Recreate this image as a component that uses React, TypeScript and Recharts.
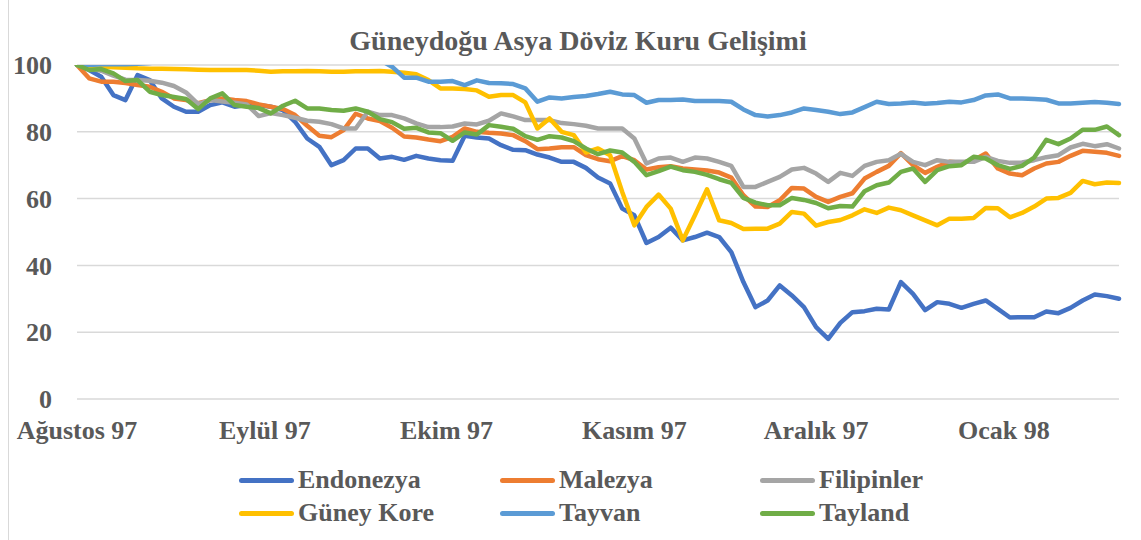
import { LineChart, Line, CartesianGrid, XAxis, YAxis } from 'recharts'

// days since 1 Aug 1997, every second day
const days = [
  0, 2, 4, 6, 8, 10, 12, 14, 16, 18,
  20, 22, 24, 26, 28, 30, 32, 34, 36, 38,
  40, 42, 44, 46, 48, 50, 52, 54, 56, 58,
  60, 62, 64, 66, 68, 70, 72, 74, 76, 78,
  80, 82, 84, 86, 88, 90, 92, 94, 96, 98,
  100, 102, 104, 106, 108, 110, 112, 114, 116, 118,
  120, 122, 124, 126, 128, 130, 132, 134, 136, 138,
  140, 142, 144, 146, 148, 150, 152, 154, 156, 158,
  160, 162, 164, 166, 168, 170, 172,
]

const endonezya = [
  100, 98.5, 96.5, 91, 89.5, 97, 95.5, 90, 87.5, 86,
  86, 88, 88.8, 87.5, 88, 88, 87.5, 86.5, 83, 78,
  75.5, 70, 71.5, 75, 75, 72, 72.5, 71.6, 72.8, 72,
  71.5, 71.3, 78.8, 78.3, 78, 76, 74.6, 74.5, 73.2, 72.3,
  71, 71, 69.2, 66.3, 64.5, 57, 55, 46.7, 48.5, 51.3,
  47.5, 48.5, 49.8, 48.5, 44, 35, 27.5, 29.5, 34, 31,
  27.5, 21.5, 18, 22.8, 26, 26.3, 27, 26.8, 35, 31.5,
  26.6, 29, 28.5, 27.3, 28.5, 29.5, 27, 24.4, 24.5, 24.5,
  26.2, 25.7, 27.3, 29.5, 31.3, 30.8, 30,
]

const malezya = [
  100, 96, 95, 95, 94.6, 94, 93.5, 92, 90, 89.5,
  88.6, 89.5, 90, 89.5, 89.2, 88.2, 87.5, 86.8, 85, 81.8,
  78.8, 78.4, 80.5, 85.4, 84, 83.2, 81.2, 78.6, 78.3, 77.7,
  77.2, 78.5, 81, 80, 79.7, 79.5, 79, 77.2, 74.8, 75,
  75.4, 75.4, 73, 71.8, 71.2, 72.7, 71.5, 68.7, 69.4, 69.7,
  69, 68.7, 68.4, 67.8, 66.3, 61, 57.6, 57.5, 59.5, 63.2,
  63, 60.5, 59, 60.5, 61.6, 66, 68, 69.8, 73.6, 70,
  67.7, 69.5, 71, 70.7, 71.5, 73.5, 69, 67.5, 67, 69,
  70.5, 71, 72.8, 74.3, 74, 73.7, 72.8,
]

const filipinler = [
  100, 99, 98.3, 96.8, 95.6, 95.5, 95.3, 94.7, 93.7, 91.8,
  88.3, 89.5, 89.1, 88.7, 88.2, 84.7, 85.6, 85, 84.2, 83.3,
  83, 82.3, 81, 81, 86, 85, 85, 84, 82.5, 81.4,
  81.4, 81.6, 82.5, 82.2, 83.3, 85.5, 84.6, 83.5, 83.5, 83.5,
  82.6, 82.3, 81.8, 81, 81, 81, 78, 70.5, 72, 72.3,
  71, 72.3, 72, 71, 69.8, 63.5, 63.5, 65, 66.5, 68.7,
  69.2, 67.5, 65, 67.7, 66.8, 69.8, 71, 71.5, 73.4, 71,
  70, 71.5, 71, 71, 71, 72.5, 71.3, 70.7, 70.8, 71.5,
  72.4, 73, 75.3, 76.4, 75.7, 76.3, 75,
]

const guneyKore = [
  100, 99.7, 99.5, 99.3, 99.2, 99, 98.9, 98.9, 98.8, 98.7,
  98.6, 98.5, 98.5, 98.5, 98.5, 98.3, 98, 98.1, 98.1, 98.2,
  98.1, 98, 98, 98.1, 98.1, 98.2, 98, 97.7, 97.2, 95.5,
  93, 93, 92.8, 92.4, 90.5, 91, 91, 88.8, 81, 84,
  80, 79, 73.8, 75, 73, 62, 52, 57.5, 61.2, 57,
  47.5, 55, 62.8, 53.5, 52.7, 50.9, 51, 51, 52.5, 56,
  55.5, 51.9, 53, 53.6, 55, 56.8, 55.7, 57.3, 56.5, 55,
  53.5, 52, 54, 54, 54.2, 57.2, 57.1, 54.4, 55.7, 57.6,
  60, 60.2, 61.7, 65.3, 64.3, 64.8, 64.7,
]

// runs just above the 100 line (clipped) until early October
const tayvan = [
  100, 100, 100.2, 100.3, 100.2, 100.4, 100.6, 101, 101.5, 101.5,
  101.5, 101.8, 102, 102, 101.8, 101.5, 101.5, 101.7, 102, 102,
  101.8, 101.8, 102, 102, 101.8, 101.5, 99.5, 96.2, 96.2, 95,
  95, 95.2, 94, 95.4, 94.6, 94.5, 94.3, 93, 89, 90.3,
  90, 90.4, 90.7, 91.3, 92, 91.2, 91, 88.7, 89.5, 89.5,
  89.7, 89.2, 89.2, 89.2, 89, 86.7, 85, 84.6, 85, 85.8,
  87, 86.5, 86, 85.3, 85.8, 87.4, 89, 88.3, 88.5, 88.8,
  88.4, 88.6, 89, 88.8, 89.5, 90.9, 91.2, 90, 90, 89.8,
  89.6, 88.5, 88.5, 88.7, 88.9, 88.7, 88.3,
]

const tayland = [
  100, 98.5, 98.8, 97.5, 95.2, 95.5, 92, 91, 90.4, 89.8,
  86.8, 90, 91.5, 88, 87.5, 87.1, 85.5, 87.8, 89.3, 87,
  87, 86.5, 86.3, 87, 86, 83.8, 82.9, 80.9, 81.2, 79.8,
  79.6, 77.3, 79.8, 79.2, 82, 81.5, 80.9, 78.7, 77.6, 78.7,
  78.3, 77.2, 75, 73.3, 74.4, 73.8, 71, 67, 68.2, 69.6,
  68.5, 68, 67.1, 65.8, 64.7, 60.2, 58.8, 58, 58, 60.2,
  59.6, 58.7, 57.1, 57.8, 57.6, 62.2, 64, 64.8, 68, 69,
  65, 68.5, 69.7, 70, 72.5, 72, 70, 68.9, 69.8, 72.3,
  77.6, 76.3, 78, 80.6, 80.6, 81.6, 79,
]

const monthTicks = [0, 31, 61, 92, 122, 153]
const monthLabels = ['Ağustos 97', 'Eylül 97', 'Ekim 97', 'Kasım 97', 'Aralık 97', 'Ocak 98']
const yTicks = [0, 20, 40, 60, 80, 100]

const seriesNames = ['Endonezya', 'Malezya', 'Filipinler', 'Güney Kore', 'Tayvan', 'Tayland']
const seriesKeys = ['endonezya', 'malezya', 'filipinler', 'guneyKore', 'tayvan', 'tayland']
const seriesColors = ['#4472C4', '#ED7D31', '#A5A5A5', '#FFC000', '#5B9BD5', '#70AD47']

const data = days.map((day, i) => ({
  day,
  endonezya: endonezya[i],
  malezya: malezya[i],
  filipinler: filipinler[i],
  guneyKore: guneyKore[i],
  tayvan: tayvan[i],
  tayland: tayland[i],
}))

const font = '"Liberation Serif", "Times New Roman", serif'
const textColor = '#595959'

const legendCols = [239, 500, 760]
const legendRows = [480, 513]

export default function App() {
  const tickStyle = { fontFamily: font, fontSize: 26, fontWeight: 700, fill: textColor }
  return (
    <div
      style={{
        position: 'absolute',
        left: 0,
        top: 0,
        width: 1141,
        height: 540,
        background: '#fff',
        fontFamily: font,
      }}
    >
      {/* chart frame edge visible on the left */}
      <div
        style={{
          position: 'absolute',
          left: 8,
          top: 0,
          width: 1,
          height: 540,
          background: '#D9D9D9',
        }}
      />
      <div
        style={{
          position: 'absolute',
          left: 0,
          top: 27,
          width: 1156,
          textAlign: 'center',
          fontSize: 28,
          lineHeight: 1,
          fontWeight: 700,
          color: textColor,
        }}
      >
        Güneydoğu Asya Döviz Kuru Gelişimi
      </div>
      <LineChart
        width={1141}
        height={540}
        data={data}
        margin={{ top: 65, right: 22, bottom: 101, left: 0 }}
      >
        <CartesianGrid vertical={false} stroke="#D9D9D9" strokeWidth={1.5} />
        <XAxis
          dataKey="day"
          type="number"
          domain={[0, 172]}
          ticks={monthTicks}
          tickFormatter={(v) => monthLabels[monthTicks.indexOf(v)]}
          interval={0}
          axisLine={false}
          tickLine={false}
          tickSize={0}
          tickMargin={22}
          height={40}
          tick={tickStyle}
        />
        <YAxis
          domain={[0, 100]}
          ticks={yTicks}
          allowDataOverflow
          axisLine={false}
          tickLine={false}
          tickSize={0}
          tickMargin={25}
          width={77}
          tick={tickStyle}
        />
        {seriesKeys.map((key, i) => (
          <Line
            key={key}
            type="linear"
            dataKey={key}
            name={seriesNames[i]}
            stroke={seriesColors[i]}
            strokeWidth={4.5}
            strokeLinejoin="round"
            strokeLinecap="round"
            dot={false}
            isAnimationActive={false}
          />
        ))}
      </LineChart>
      {seriesNames.map((name, i) => (
        <div
          key={name}
          style={{
            position: 'absolute',
            left: legendCols[i % 3],
            top: legendRows[Math.floor(i / 3)] - 13,
            height: 26,
            display: 'flex',
            alignItems: 'center',
            fontSize: 26,
            lineHeight: 1,
            fontWeight: 700,
            color: textColor,
            whiteSpace: 'nowrap',
          }}
        >
          <span
            style={{
              display: 'inline-block',
              width: 55,
              height: 5,
              borderRadius: 3,
              background: seriesColors[i],
              marginRight: 4,
            }}
          />
          {name}
        </div>
      ))}
    </div>
  )
}
